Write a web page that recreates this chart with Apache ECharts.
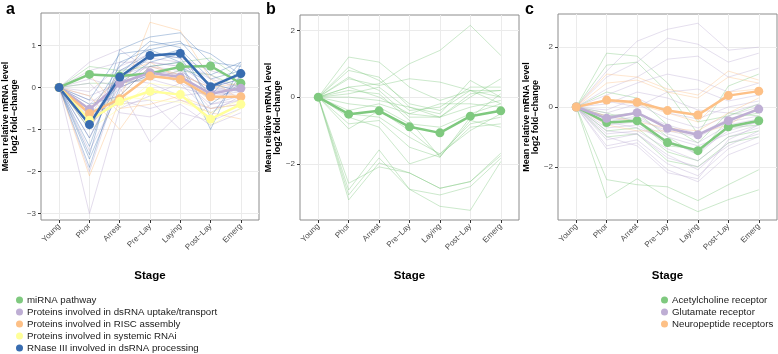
<!DOCTYPE html>
<html>
<head>
<meta charset="utf-8">
<script src="https://cdn.jsdelivr.net/npm/echarts@6/dist/echarts.min.js"></script>
<style>html,body{margin:0;padding:0;background:#fff}#c{width:778px;height:354px}</style>
</head>
<body>
<div id="c"></div>
<script>
// ---------- data ----------
const categories = ['Young', 'Phor', 'Arrest', 'Pre\u2212Lay', 'Laying', 'Post\u2212Lay', 'Emerg'];
const yTicksA = [-3, -2, -1, 0, 1];
const yTicksB = [-2, 0, 2];
const yTicksC = [-2, 0, 2];

// Panel a group means
const aNames = ['miRNA pathway', 'Proteins involved in dsRNA uptake/transport', 'Proteins involved in RISC assembly', 'Proteins involved in systemic RNAi', 'RNase III involved in dsRNA processing'];
const aMiRNA = [0, 0.31, 0.27, 0.33, 0.49, 0.51, 0.10];
const aUptake = [0, -0.52, 0.10, 0.35, 0.25, -0.15, -0.02];
const aRISC = [0, -0.62, -0.27, 0.27, 0.19, -0.22, -0.22];
const aSystemic = [0, -0.78, -0.33, -0.09, -0.17, -0.75, -0.40];
const aRNase = [0, -0.88, 0.25, 0.76, 0.81, 0.02, 0.33];

// Panel a individual genes
const aMiRNAGenes = [
  [0, 0.5, 0.4, 0.5, 0.6, 0.7, 0.2],
  [0, 0.1, 0.1, 0.2, 0.4, 0.3, 0.0]
];
const aUptakeGenes = [
  [0, -3.0, -0.5, -0.2, 0.1, -0.6, -0.2],
  [0, -2.0, 0.2, 0.4, 0.3, -0.3, 0.0],
  [0, -1.5, -0.1, 0.6, 0.5, 0.0, -0.1],
  [0, -1.2, 0.3, 0.5, 0.4, -0.1, 0.1],
  [0, -0.9, 0.0, 0.3, 0.2, -0.4, -0.3],
  [0, -0.7, 0.4, 0.7, 0.6, 0.2, 0.0],
  [0, -0.5, 0.1, 0.2, 0.0, -0.2, -0.1],
  [0, -0.3, -0.3, -0.5, -0.3, -0.5, -0.4],
  [0, -0.1, 0.5, 0.8, 0.7, 0.4, 0.2],
  [0, 0.2, 0.0, -1.3, -0.6, -0.8, -0.5],
  [0, 0.6, 0.9, 0.4, 0.1, -0.2, 0.1],
  [0, -0.4, 0.2, 0.1, -0.2, -0.1, 0.0],
  [0, -0.6, -0.4, -0.3, -1.0, -0.4, -0.2],
  [0, 0.4, 0.6, 0.6, 0.5, 0.3, -0.1],
  [0, -0.2, 0.1, 0.4, 0.3, -0.5, -0.3],
  [0, -0.8, 0.3, 0.2, 0.4, -0.1, -0.2],
  [0, 0.1, -0.6, -0.7, -0.4, -0.9, -0.6],
  [0, -1.0, 0.2, 0.5, 0.3, 0.0, 0.2]
];
const aRISCGenes = [
  [0, -2.1, -0.3, 1.55, 1.35, 0.2, -0.3],
  [0, -0.2, -1.0, 0.0, -0.3, -0.6, -0.75],
  [0, -0.9, -0.2, 0.5, 0.3, 0.0, 0.1],
  [0, -0.5, 0.3, 0.6, 0.2, -0.3, -0.2],
  [0, 0.3, -0.5, -0.4, -0.2, -0.5, -0.4]
];
const aSystemicGenes = [
  [0, -1.0, -0.5, 0.1, 0.0, -0.9, -0.5],
  [0, -0.6, -0.2, -0.3, -0.35, -0.6, -0.3]
];
const aRNaseGenes = [
  [0, -1.9, 0.3, 1.0, 1.1, 0.3, 0.6],
  [0, -1.6, 0.9, 1.2, 1.3, 0.6, 0.5],
  [0, -1.4, 0.6, 0.9, 1.05, 0.8, 0.3],
  [0, -1.2, 0.2, 0.7, 0.9, 0.2, 0.4],
  [0, -1.0, 0.4, 0.8, 0.7, -0.2, 0.6],
  [0, -0.8, 0.1, 0.6, 0.8, 0.0, 0.2],
  [0, -0.6, 0.5, 1.1, 0.95, -0.4, 0.1],
  [0, -0.4, -0.2, 0.5, 0.6, -0.7, 0.3],
  [0, -1.7, 0.0, 0.3, 0.5, 0.1, -0.1],
  [0, -0.3, 0.8, 0.9, 0.6, -1.0, 0.55]
];

// Panel b
const bMean = [0, -0.51, -0.41, -0.89, -1.07, -0.57, -0.41];
const bGenes = [
  [0, 1.2, 1.05, 0.3, -0.1, 0.2, 0.0],
  [0, 0.55, 0.35, 0.55, 0.45, 0.2, -0.2],
  [0, 0.3, 0.4, 1.0, 1.4, 2.15, 1.25],
  [0, 0.8, 0.6, -0.3, -0.5, 0.5, 0.0],
  [0, 0.9, 0.5, -0.2, -0.4, 0.2, 0.2],
  [0, 0.3, 0.0, -0.5, -0.6, 0.0, 0.55],
  [0, 0.1, 0.3, -0.4, -0.3, 0.3, 0.3],
  [0, -0.2, -0.3, -0.8, -0.9, -0.5, -0.2],
  [0, -0.5, -0.6, -1.2, -1.7, -0.8, -0.6],
  [0, -0.8, -0.7, -1.5, -1.8, -0.7, -0.9],
  [0, -0.95, -0.4, -1.0, -1.75, -0.9, -0.8],
  [0, -0.6, -0.9, -2.0, -1.7, -1.0, -0.5],
  [0, 0.2, 0.1, -0.7, -1.8, -0.6, 0.1],
  [0, 0.6, 0.2, -0.6, -0.6, -0.3, -0.1],
  [0, 0.0, -0.1, -0.3, -0.6, 0.1, 0.2],
  [0, -0.4, -0.2, -0.5, -0.2, -0.2, -0.3],
  [0, -2.58, -2.09, -2.27, -2.73, -2.53, -1.68],
  [0, -2.78, -1.58, -2.76, -2.93, -2.68, -1.83],
  [0, -2.93, -1.82, -2.76, -3.27, -3.39, -1.93],
  [0, -3.08, -1.97, -2.27, -2.73, -2.53, -1.75]
];

// Panel c
const cNames = ['Acetylcholine receptor', 'Glutamate receptor', 'Neuropeptide receptors'];
const cAcetyl = [0, -0.52, -0.46, -1.19, -1.46, -0.66, -0.46];
const cGlutamate = [0, -0.38, -0.19, -0.71, -0.93, -0.46, -0.07];
const cNeuro = [0, 0.23, 0.16, -0.12, -0.27, 0.38, 0.53];
const cAcetylGenes = [
  [0, 1.8, 1.7, 0.8, -0.5, -0.3, 0.1],
  [0, 1.4, 1.5, 0.5, -0.9, 0.7, 1.1],
  [0, -2.43, -2.6, -2.67, -3.13, -2.6, -2.1],
  [0, -3.04, -2.4, -3.03, -3.5, -3.1, -2.77],
  [0, -0.3, -0.2, -1.0, -1.6, -0.4, -0.2],
  [0, -0.8, -0.7, -1.5, -1.8, -1.0, -0.8],
  [0, 0.5, 0.3, -0.6, -1.2, -0.2, -0.3],
  [0, -1.0, -0.9, -1.8, -2.0, -1.2, -1.0],
  [0, -0.2, -0.5, -1.3, -1.4, -0.7, -0.6]
];
const cGlutamateGenes = [
  [0, 1.2, 2.2, 2.6, 2.8, 1.9, 2.0],
  [0, 1.0, 1.5, 2.3, 2.1, 1.5, 1.8],
  [0, 0.6, 1.0, 1.6, 1.7, 1.0, 1.3],
  [0, 0.4, 0.8, 1.1, 0.9, 0.5, 0.8],
  [0, 0.2, 0.0, 0.5, 0.6, 0.2, 0.4],
  [0, -0.1, 0.3, -0.2, -0.4, 0.0, 0.2],
  [0, -0.3, -0.2, -0.6, -0.9, -0.4, -0.1],
  [0, -0.5, -0.3, -0.9, -1.2, -0.6, -0.4],
  [0, -0.7, -0.6, -1.2, -1.5, -0.8, -0.5],
  [0, -0.9, -0.8, -1.4, -1.8, -1.0, -0.7],
  [0, -1.1, -0.9, -1.6, -2.1, -1.2, -0.9],
  [0, -1.3, -1.1, -1.9, -2.3, -1.4, -1.0],
  [0, -1.4, -1.2, -2.1, -2.5, -1.6, -1.2],
  [0, -0.6, -0.5, -1.0, -1.3, -0.9, -0.6],
  [0, -0.4, -0.4, -0.8, -1.0, -0.5, -0.3],
  [0, -0.2, 0.1, -0.4, -0.7, -0.3, 0.0],
  [0, -0.8, -0.9, -1.7, -2.0, -1.3, -0.8],
  [0, -1.0, -1.3, -2.2, -2.4, -1.1, -0.6],
  [0, 0.1, 0.5, 0.3, -0.1, -0.2, 0.1],
  [0, -0.5, -0.7, -1.1, -1.6, -0.7, -0.5]
];
const cNeuroGenes = [
  [0, 1.1, 1.0, 0.6, 0.4, 1.2, 0.9],
  [0, 0.8, 0.9, 0.5, 0.3, 1.0, 0.8],
  [0, -0.3, -0.5, -0.7, -0.8, -0.2, 0.3],
  [0, 0.2, 0.1, -0.2, -0.5, 0.5, 0.6],
  [0, -0.6, -0.8, -0.8, -0.9, -0.6, 0.0]
];

// ---------- styling ----------
const GREEN = '#7fc97f', LAV = '#beaed4', ORANGE = '#fdc086', YELLOW = '#ffff99', BLUE = '#386cb0';
const FONT = 'Liberation Sans, Arial, sans-serif';
const catIdx = categories.map((_, i) => i);
const pts = arr => arr.map((v, i) => [i, v]);
const minus = v => (v < 0 ? '\u2212' + Math.abs(v) : String(v));

const grids = [
  { left: 40, top: 13, width: 219, height: 207 },
  { left: 300, top: 15, width: 219, height: 205 },
  { left: 558, top: 14, width: 219, height: 206 }
].map(g => Object.assign(g, { show: true, borderColor: '#8c8c8c', borderWidth: 1, backgroundColor: '#fff' }));

function xAxis(k) {
  return {
    type: 'value', gridIndex: k, min: -0.6, max: 6.6, minInterval: 1, maxInterval: 1,
    axisLine: { show: false, onZero: false },
    axisTick: { show: true, customValues: catIdx, length: 3, lineStyle: { color: '#333', width: 1 } },
    axisLabel: { customValues: catIdx, formatter: v => categories[Math.round(v)], rotate: 45, fontSize: 8, color: '#4d4d4d', margin: 5, fontFamily: FONT },
    splitLine: { show: true, lineStyle: { color: '#ebebeb', width: 1 } },
    name: 'Stage', nameLocation: 'middle', nameGap: 50,
    nameTextStyle: { fontWeight: 'bold', fontSize: 11.5, color: '#000', fontFamily: FONT }
  };
}
function yAxis(k, min, max, ticks, gap) {
  return {
    type: 'value', gridIndex: k, min: min, max: max,
    axisLine: { show: false, onZero: false },
    axisTick: { show: true, customValues: ticks, length: 3, lineStyle: { color: '#333', width: 1 } },
    axisLabel: { customValues: ticks, formatter: minus, fontSize: 8, color: '#4d4d4d', margin: 5, fontFamily: FONT },
    splitLine: { show: true, lineStyle: { color: '#ebebeb', width: 1 } },
    name: 'Mean relative mRNA level\nlog2 fold\u2212change', nameLocation: 'middle', nameGap: gap, nameRotate: 90,
    nameTextStyle: { fontWeight: 'bold', fontSize: 9, lineHeight: 9, color: '#000', fontFamily: FONT }
  };
}

const series = [];
function thin(k, genes, color, opacity) {
  genes.forEach(g => series.push({
    type: 'line', name: '_gene', xAxisIndex: k, yAxisIndex: k, data: pts(g), symbol: 'none', silent: true,
    lineStyle: { color: color, width: 0.8, opacity: opacity }, itemStyle: { color: color }, z: 2
  }));
}
function thick(k, name, mean, color) {
  series.push({
    type: 'line', name: name, xAxisIndex: k, yAxisIndex: k, data: pts(mean), symbol: 'circle', symbolSize: 9,
    lineStyle: { color: color, width: 2.5 }, itemStyle: { color: color }, z: 5, silent: true
  });
}

// panel a
thin(0, aMiRNAGenes, GREEN, 0.5);
thin(0, aUptakeGenes, LAV, 0.55);
thin(0, aRISCGenes, ORANGE, 0.55);
thin(0, aSystemicGenes, YELLOW, 0.6);
thin(0, aRNaseGenes, BLUE, 0.45);
thick(0, aNames[0], aMiRNA, GREEN);
thick(0, aNames[1], aUptake, LAV);
thick(0, aNames[2], aRISC, ORANGE);
thick(0, aNames[3], aSystemic, YELLOW);
thick(0, aNames[4], aRNase, BLUE);
// panel b
thin(1, bGenes, GREEN, 0.5);
thick(1, 'Acetylcholine receptor ', bMean, GREEN);
// panel c
thin(2, cAcetylGenes, GREEN, 0.5);
thin(2, cGlutamateGenes, LAV, 0.5);
thin(2, cNeuroGenes, ORANGE, 0.5);
thick(2, cNames[0], cAcetyl, GREEN);
thick(2, cNames[1], cGlutamate, LAV);
thick(2, cNames[2], cNeuro, ORANGE);

const legendCommon = {
  orient: 'vertical', icon: 'circle', itemWidth: 9, itemHeight: 7, itemGap: 2, padding: 0,
  selectedMode: false, textStyle: { fontSize: 9.7, color: '#1a1a1a', fontFamily: FONT, padding: [0, 0, 0, -2] }
};
const option = {
  animation: false,
  backgroundColor: '#fff',
  textStyle: { fontFamily: FONT },
  title: [
    { text: 'a', left: 1, top: -3, textStyle: { fontSize: 16, fontWeight: 'bold', color: '#000', fontFamily: FONT } },
    { text: 'b', left: 261, top: -3, textStyle: { fontSize: 16, fontWeight: 'bold', color: '#000', fontFamily: FONT } },
    { text: 'c', left: 520, top: -3, textStyle: { fontSize: 16, fontWeight: 'bold', color: '#000', fontFamily: FONT } }
  ],
  legend: [
    Object.assign({ left: 16, top: 295, height: 59, data: aNames }, legendCommon),
    Object.assign({ left: 661, top: 295, height: 59, data: cNames }, legendCommon)
  ],
  grid: grids,
  xAxis: [xAxis(0), xAxis(1), xAxis(2)],
  yAxis: [yAxis(0, -3.15, 1.77, yTicksA, 22), yAxis(1, -3.68, 2.46, yTicksB, 16), yAxis(2, -3.78, 3.11, yTicksC, 17)],
  series: series
};
const chart = echarts.init(document.getElementById('c'), null, { renderer: 'canvas' });
chart.setOption(option);
</script>
</body>
</html>
